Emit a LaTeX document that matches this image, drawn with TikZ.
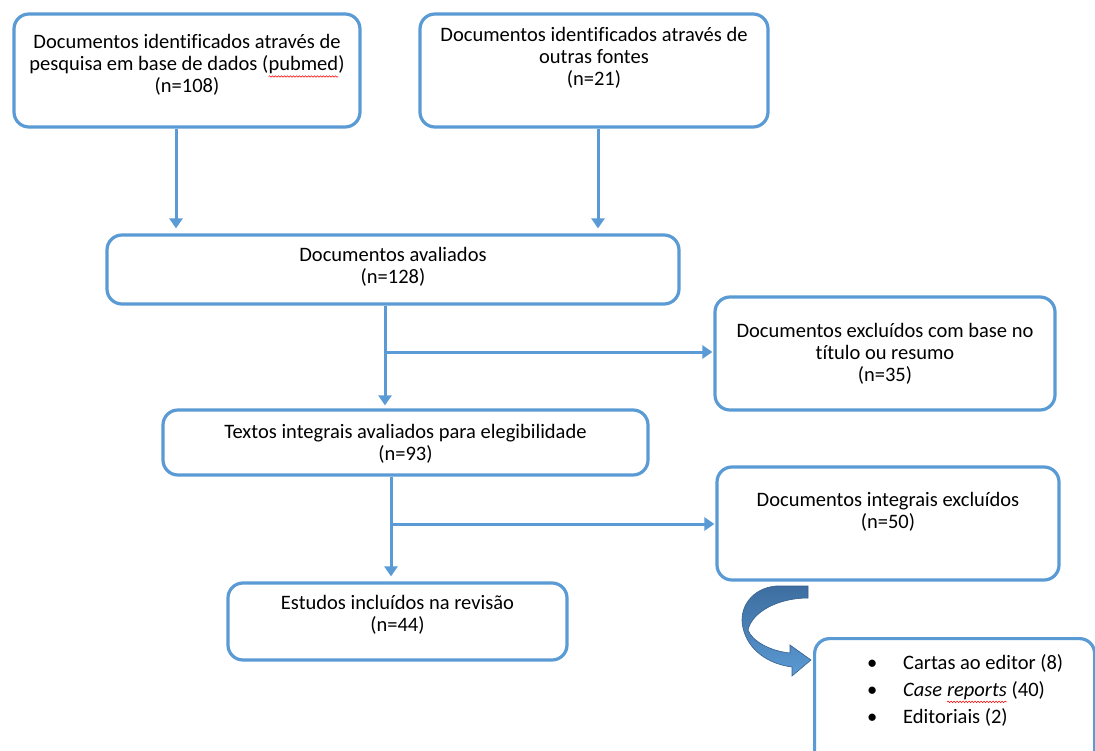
\documentclass[tikz,border=0pt]{standalone}
\usepackage{fontspec}
\setmainfont[Ligatures=NoCommon]{Carlito}
\usetikzlibrary{arrows.meta,decorations.pathmorphing}
\definecolor{lineblue}{RGB}{91,155,213}
\definecolor{darkarrow}{RGB}{62,110,160}
\definecolor{arrowedge}{RGB}{55,95,140}
\newcommand{\wavyword}[1]{\tikz[baseline=(w.base)]{\node[inner sep=0pt,outer sep=0pt](w){#1};\draw[red,line width=0.5pt,decorate,decoration={snake,segment length=3pt,amplitude=0.8pt}]([yshift=-2.5pt]w.south west)--([yshift=-2.5pt]w.south east);}}
\tikzset{
  box/.style={draw=lineblue,line width=3.2pt,rounded corners=15pt,fill=white,inner sep=0pt},
  txt/.style={align=center,inner sep=0pt,font=\fontsize{20.5}{22}\selectfont,text=black},
  conn/.style={draw=lineblue,line width=3pt},
  arr/.style={conn,-{Triangle[width=13pt,length=10pt]}},
}
\begin{document}
\begin{tikzpicture}[x=1pt,y=-1pt]
\useasboundingbox (0,0) rectangle (1095,751);
\clip (0,0) rectangle (1095,751);
\fill[white] (0,0) rectangle (1095,751);

% boxes
\node[box,minimum width=346pt,minimum height=113pt] (b1) at (187,70.5) {};
\node[txt] (t1) at (187,65) {Documentos identificados através de\\pesquisa em base de dados (\wavyword{pubmed})\\(n=108)};

\node[box,minimum width=348pt,minimum height=113pt] (b2) at (594,70.5) {};
\node[txt] (t2) at (594,57.5) {Documentos identificados através de\\outras fontes\\(n=21)};

\node[box,minimum width=572pt,minimum height=69pt] (b3) at (393,269.5) {};
\node[txt] (t3) at (393,267) {Documentos avaliados\\(n=128)};

\node[box,minimum width=340pt,minimum height=113pt] (b5) at (885,353.5) {};
\node[txt] (t5) at (885,353.5) {Documentos excluídos com base no\\título ou resumo\\(n=35)};

\node[box,minimum width=485pt,minimum height=65pt] (b4) at (405.5,442.5) {};
\node[txt] (t4) at (405.5,443.5) {Textos integrais avaliados para elegibilidade\\(n=93)};

\node[box,minimum width=342pt,minimum height=113pt] (b7) at (888,523.5) {};
\node[txt] (t7) at (888,511.5) {Documentos integrais excluídos\\(n=50)};

\node[box,minimum width=339pt,minimum height=77pt] (b6) at (397.5,621.5) {};
\node[txt] (t6) at (397.5,615) {Estudos incluídos na revisão\\(n=44)};

\node[box,minimum width=280pt,minimum height=130pt,anchor=north west] (b8) at (813,637) {};
\node[txt,align=left,anchor=west] (t8) at (867,690) {\makebox[36pt][l]{\textbullet}Cartas ao editor (8)\\[5pt]\makebox[36pt][l]{\textbullet}\textit{Case \wavyword{reports}} (40)\\[5pt]\makebox[36pt][l]{\textbullet}Editoriais (2)};

% connectors
\draw[arr,shorten >=5pt] (b1.south -| 176,0) -- (b3.north -| 176,0);
\draw[arr,shorten >=5pt] (b2.south -| 598,0) -- (b3.north -| 598,0);
\draw[arr,shorten >=3pt] (b3.south -| 385,0) -- (b4.north -| 385,0);
\coordinate (j1) at (385,352);
\draw[arr,shorten >=1pt] (j1) -- (j1 -| b5.west);
\draw[arr,shorten >=5pt] (b4.south -| 391,0) -- (b6.north -| 391,0);
\coordinate (j2) at (391,524);
\draw[arr,shorten >=1pt] (j2) -- (j2 -| b7.west);

% curved block arrow
\path[draw=arrowedge,line width=0.6pt,top color=darkarrow,bottom color=lineblue,middle color=darkarrow!55!lineblue]
  (808,586) -- (776,586) .. controls (752,588) and (738,608) .. (743,628)
  .. controls (748,650) and (768,664) .. (792,667) -- (792,676) -- (811,660) -- (790,645) -- (790,653)
  .. controls (770,651) and (752,641) .. (748,630)
  .. controls (752,612) and (778,598) .. (808,598) -- cycle;
\end{tikzpicture}
\end{document}
